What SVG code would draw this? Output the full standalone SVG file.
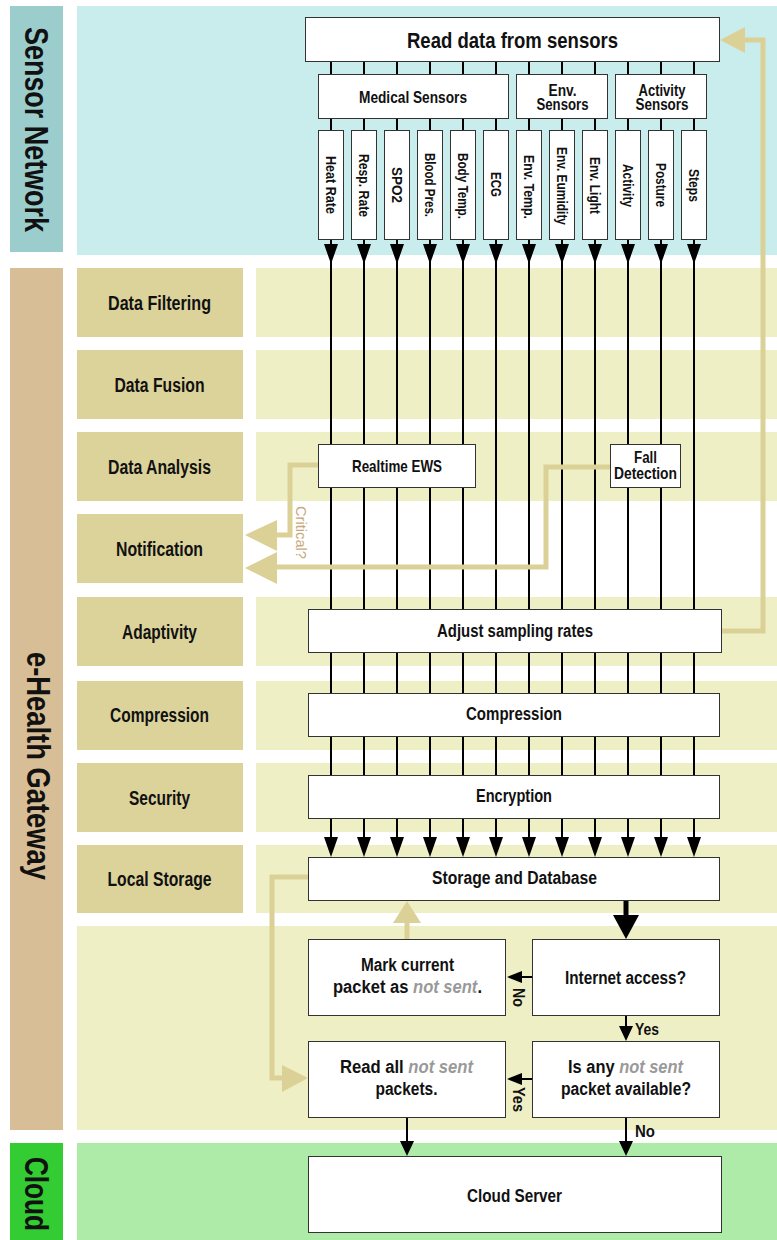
<svg xmlns="http://www.w3.org/2000/svg" width="777" height="1240" viewBox="0 0 777 1240">
<defs>
<style>
.t{font-family:"Liberation Sans Narrow","Liberation Sans",Arial,sans-serif;font-weight:bold;fill:#111;text-anchor:middle}
.big{font-family:"Liberation Sans Narrow","Liberation Sans",Arial,sans-serif;font-weight:bold;fill:#111;font-size:34px}
.lab{font-size:20px}
.m{font-size:18px}
.g{font-size:17px}
.g2{font-size:16px}
.s{font-size:14px}
.box{fill:#fff;stroke:#333;stroke-width:1}
.lbox{fill:#dcd39b}
.band{fill:#efefc6}
.ln{stroke:#000;stroke-width:2;fill:none}
.gold{stroke:#dbd197;stroke-width:5;fill:none}
.gf{fill:#dbd197}
.ns{fill:#999;font-style:italic}
</style>
<path id="ah" d="M-7,-20 L7,-20 L0,0 Z"/>
<path id="as" d="M-7,-15 L7,-15 L0,0 Z"/>
<path id="al" d="M15,-6 L15,6 L0,0 Z"/>
</defs>

<g id="backgrounds">
<rect x="10" y="6" width="53" height="246" fill="#9ccdcd"/>
<rect x="77" y="6" width="700" height="249" fill="#c9ecec"/>
<rect x="10" y="268" width="53" height="862" fill="#d8be96"/>
<rect x="10" y="1143" width="53" height="97" fill="#33cc33"/>
<rect x="77" y="926" width="700" height="204" fill="#efefc6"/>
<rect x="77" y="1143" width="700" height="97" fill="#aeeaa8"/>
<rect class="band" x="256" y="268" width="521" height="69"/>
<rect class="band" x="256" y="350" width="521" height="69"/>
<rect class="band" x="256" y="432" width="521" height="69"/>
<rect class="band" x="256" y="597" width="521" height="69"/>
<rect class="band" x="256" y="681" width="521" height="69"/>
<rect class="band" x="256" y="763" width="521" height="69"/>
<rect class="band" x="256" y="845" width="521" height="68"/>
</g>

<g id="lane-labels">
<text class="big" transform="translate(25,27) rotate(90)" textLength="205" lengthAdjust="spacingAndGlyphs">Sensor Network</text>
<text class="big" transform="translate(27,652) rotate(90)" textLength="228" lengthAdjust="spacingAndGlyphs">e-Health Gateway</text>
<text class="big" transform="translate(25,1157) rotate(90)" textLength="74" lengthAdjust="spacingAndGlyphs">Cloud</text>
</g>

<g id="layer-labels">
<g id="l-filtering"><rect class="lbox" x="77" y="268" width="166" height="69"/><text class="t lab" x="159.5" y="309.5" textLength="103" lengthAdjust="spacingAndGlyphs">Data Filtering</text></g>
<g id="l-fusion"><rect class="lbox" x="77" y="350" width="166" height="69"/><text class="t lab" x="159.5" y="391.5" textLength="90" lengthAdjust="spacingAndGlyphs">Data Fusion</text></g>
<g id="l-analysis"><rect class="lbox" x="77" y="432" width="166" height="69"/><text class="t lab" x="159.5" y="473.5" textLength="103" lengthAdjust="spacingAndGlyphs">Data Analysis</text></g>
<g id="l-notification"><rect class="lbox" x="77" y="514" width="166" height="69"/><text class="t lab" x="159.5" y="555.5" textLength="87" lengthAdjust="spacingAndGlyphs">Notification</text></g>
<g id="l-adaptivity"><rect class="lbox" x="77" y="597" width="166" height="69"/><text class="t lab" x="159.5" y="638.5" textLength="75" lengthAdjust="spacingAndGlyphs">Adaptivity</text></g>
<g id="l-compression"><rect class="lbox" x="77" y="681" width="166" height="69"/><text class="t lab" x="159.5" y="722" textLength="99" lengthAdjust="spacingAndGlyphs">Compression</text></g>
<g id="l-security"><rect class="lbox" x="77" y="763" width="166" height="69"/><text class="t lab" x="159.5" y="804.5" textLength="61" lengthAdjust="spacingAndGlyphs">Security</text></g>
<g id="l-storage"><rect class="lbox" x="77" y="845" width="166" height="68"/><text class="t lab" x="159.5" y="886" textLength="104" lengthAdjust="spacingAndGlyphs">Local Storage</text></g>
</g>

<g id="connectors">
<path class="ln" d="M331,62V75M364,62V75M397,62V75M430,62V75M463,62V75M496,62V75M529,62V75M562,62V75M595,62V75M628,62V75M661,62V75M694,62V75"/>
<path class="ln" d="M331,118V131M364,118V131M397,118V131M430,118V131M463,118V131M496,118V131M529,118V131M562,118V131M595,118V131M628,118V131M661,118V131M694,118V131"/>
<path class="ln" d="M331,240V846M364,240V846M397,240V846M430,240V846M463,240V846M496,240V846M529,240V846M562,240V846M595,240V846M628,240V846M661,240V846M694,240V846"/>
<g id="heads-top">
<use href="#ah" x="331" y="264"/><use href="#ah" x="364" y="264"/><use href="#ah" x="397" y="264"/><use href="#ah" x="430" y="264"/><use href="#ah" x="463" y="264"/><use href="#ah" x="496" y="264"/><use href="#ah" x="529" y="264"/><use href="#ah" x="562" y="264"/><use href="#ah" x="595" y="264"/><use href="#ah" x="628" y="264"/><use href="#ah" x="661" y="264"/><use href="#ah" x="694" y="264"/>
</g>
<g id="heads-storage">
<use href="#ah" x="331" y="857"/><use href="#ah" x="364" y="857"/><use href="#ah" x="397" y="857"/><use href="#ah" x="430" y="857"/><use href="#ah" x="463" y="857"/><use href="#ah" x="496" y="857"/><use href="#ah" x="529" y="857"/><use href="#ah" x="562" y="857"/><use href="#ah" x="595" y="857"/><use href="#ah" x="628" y="857"/><use href="#ah" x="661" y="857"/><use href="#ah" x="694" y="857"/>
</g>
<path d="M626,901V916" stroke="#000" stroke-width="5"/>
<path d="M613,915L639,915L626,939Z" fill="#000"/>
<path class="ln" d="M532,977H520"/>
<use href="#al" x="507" y="977"/>
<path class="ln" d="M626,1016V1027"/>
<use href="#as" x="626" y="1041"/>
<path class="ln" d="M532,1079H520"/>
<use href="#al" x="507" y="1079"/>
<path class="ln" d="M407,1118V1141"/>
<use href="#as" x="407" y="1156"/>
<path class="ln" d="M626,1118V1141"/>
<use href="#as" x="626" y="1156"/>
</g>

<g id="n-read"><rect class="box" x="305.5" y="17.5" width="414" height="44"/><text class="t" style="font-size:22px" x="512.5" y="48" textLength="211" lengthAdjust="spacingAndGlyphs">Read data from sensors</text></g>
<g id="n-medical"><rect class="box" x="318.5" y="74.5" width="190" height="44"/><text class="t g" x="413" y="103" textLength="108" lengthAdjust="spacingAndGlyphs">Medical Sensors</text></g>
<g id="n-env"><rect class="box" x="516.5" y="74.5" width="91" height="44"/><text class="t g2" x="562.5" y="96" textLength="28" lengthAdjust="spacingAndGlyphs">Env.</text><text class="t g2" x="562.5" y="110" textLength="52" lengthAdjust="spacingAndGlyphs">Sensors</text></g>
<g id="n-activity"><rect class="box" x="615.5" y="74.5" width="91" height="44"/><text class="t g2" x="662" y="96" textLength="47" lengthAdjust="spacingAndGlyphs">Activity</text><text class="t g2" x="662" y="110" textLength="53" lengthAdjust="spacingAndGlyphs">Sensors</text></g>

<g id="sensors">
<g id="s-heart"><rect class="box" x="318.5" y="130.5" width="25" height="109"/><text class="t s" transform="translate(326,185) rotate(90)" textLength="58" lengthAdjust="spacingAndGlyphs">Heat Rate</text></g>
<g id="s-resp"><rect class="box" x="351.5" y="130.5" width="25" height="109"/><text class="t s" transform="translate(359,185.5) rotate(90)" textLength="63" lengthAdjust="spacingAndGlyphs">Resp. Rate</text></g>
<g id="s-spo2"><rect class="box" x="384.5" y="130.5" width="25" height="109"/><text class="t s" transform="translate(392,185) rotate(90)" textLength="36" lengthAdjust="spacingAndGlyphs">SPO2</text></g>
<g id="s-bp"><rect class="box" x="417.5" y="130.5" width="25" height="109"/><text class="t s" transform="translate(425,185) rotate(90)" textLength="64" lengthAdjust="spacingAndGlyphs">Blood Pres.</text></g>
<g id="s-bt"><rect class="box" x="450.5" y="130.5" width="25" height="109"/><text class="t s" transform="translate(458,186) rotate(90)" textLength="66" lengthAdjust="spacingAndGlyphs">Body Temp.</text></g>
<g id="s-ecg"><rect class="box" x="483.5" y="130.5" width="25" height="109"/><text class="t s" transform="translate(491,184.5) rotate(90)" textLength="25" lengthAdjust="spacingAndGlyphs">ECG</text></g>
<g id="s-et"><rect class="box" x="516.5" y="130.5" width="25" height="109"/><text class="t s" transform="translate(524,187) rotate(90)" textLength="64" lengthAdjust="spacingAndGlyphs">Env. Temp.</text></g>
<g id="s-eh"><rect class="box" x="549.5" y="130.5" width="25" height="109"/><text class="t s" transform="translate(557,186) rotate(90)" textLength="78" lengthAdjust="spacingAndGlyphs">Env. Eumidity</text></g>
<g id="s-el"><rect class="box" x="582.5" y="130.5" width="25" height="109"/><text class="t s" transform="translate(590,185.5) rotate(90)" textLength="57" lengthAdjust="spacingAndGlyphs">Env. Light</text></g>
<g id="s-act"><rect class="box" x="615.5" y="130.5" width="25" height="109"/><text class="t s" transform="translate(623,185.5) rotate(90)" textLength="43" lengthAdjust="spacingAndGlyphs">Activity</text></g>
<g id="s-post"><rect class="box" x="648.5" y="130.5" width="25" height="109"/><text class="t s" transform="translate(656,185) rotate(90)" textLength="44" lengthAdjust="spacingAndGlyphs">Posture</text></g>
<g id="s-steps"><rect class="box" x="681.5" y="130.5" width="25" height="109"/><text class="t s" transform="translate(689,185.5) rotate(90)" textLength="33" lengthAdjust="spacingAndGlyphs">Steps</text></g>
</g>

<g id="n-ews"><rect class="box" x="318.5" y="444.5" width="157" height="43"/><text class="t g" x="397" y="472" textLength="90" lengthAdjust="spacingAndGlyphs">Realtime EWS</text></g>
<g id="n-fall"><rect class="box" x="610.5" y="444.5" width="70" height="43"/><text class="t g2" x="645.5" y="463" textLength="23" lengthAdjust="spacingAndGlyphs">Fall</text><text class="t g2" x="645.5" y="479" textLength="63" lengthAdjust="spacingAndGlyphs">Detection</text></g>

<g id="n-adjust"><rect class="box" x="308.5" y="609.5" width="413" height="43"/><text class="t m" x="515" y="637" textLength="156" lengthAdjust="spacingAndGlyphs">Adjust sampling rates</text></g>
<g id="n-compression"><rect class="box" x="308.5" y="693.5" width="411" height="43"/><text class="t m" x="514" y="720" textLength="96" lengthAdjust="spacingAndGlyphs">Compression</text></g>
<g id="n-encryption"><rect class="box" x="308.5" y="775.5" width="411" height="43"/><text class="t m" x="514" y="802" textLength="76" lengthAdjust="spacingAndGlyphs">Encryption</text></g>
<g id="n-storage"><rect class="box" x="308.5" y="857.5" width="411" height="43"/><text class="t m" x="514.5" y="884" textLength="165" lengthAdjust="spacingAndGlyphs">Storage and Database</text></g>

<g id="n-mark"><rect class="box" x="308.5" y="939.5" width="197" height="76"/><text class="t m" x="407.5" y="971" textLength="93" lengthAdjust="spacingAndGlyphs">Mark current</text><text class="t m" x="407.5" y="993" textLength="149" lengthAdjust="spacingAndGlyphs">packet as <tspan class="ns">not sent</tspan>.</text></g>
<g id="n-internet"><rect class="box" x="532.5" y="939.5" width="187" height="76"/><text class="t m" x="625.5" y="984" textLength="121" lengthAdjust="spacingAndGlyphs">Internet access?</text></g>
<g id="n-readall"><rect class="box" x="308.5" y="1041.5" width="197" height="76"/><text class="t m" x="406.5" y="1073" textLength="133" lengthAdjust="spacingAndGlyphs">Read all <tspan class="ns">not sent</tspan></text><text class="t m" x="406.5" y="1095" textLength="62" lengthAdjust="spacingAndGlyphs">packets.</text></g>
<g id="n-isany"><rect class="box" x="532.5" y="1041.5" width="187" height="76"/><text class="t m" x="625.5" y="1073" textLength="115" lengthAdjust="spacingAndGlyphs">Is any <tspan class="ns">not sent</tspan></text><text class="t m" x="626" y="1095" textLength="130" lengthAdjust="spacingAndGlyphs">packet available?</text></g>
<g id="n-cloud"><rect class="box" x="308.5" y="1156.5" width="413" height="76"/><text class="t m" x="514.5" y="1202" textLength="95" lengthAdjust="spacingAndGlyphs">Cloud Server</text></g>

<g id="gold-connectors">
<path class="gold" d="M318,465H290V535H276"/>
<path class="gf" d="M245,535L277,520L277,551Z"/>
<path class="gold" d="M610,467H546V567H276"/>
<path class="gf" d="M245,568L277,552L277,584Z"/>
<path class="gold" d="M722,631H763V40H744"/>
<path class="gf" d="M720,40L745,27L745,53Z"/>
<path class="gold" d="M308,877H272V1078H283"/>
<path class="gf" d="M308,1078L282,1065L282,1092Z"/>
<path class="gold" d="M407,939V921"/>
<path class="gf" d="M407,901L393,923L421,923Z"/>
</g>

<g id="labels">
<text style="font-family:'Liberation Sans Narrow','Liberation Sans',Arial,sans-serif;font-size:15px;fill:#c8a87a" transform="translate(296,506) rotate(90)" textLength="53" lengthAdjust="spacingAndGlyphs">Critical?</text>
<text class="t g" style="text-anchor:start" transform="translate(513,988) rotate(90)" textLength="19" lengthAdjust="spacingAndGlyphs">No</text>
<text class="t g" style="text-anchor:start" x="635" y="1035" textLength="24" lengthAdjust="spacingAndGlyphs">Yes</text>
<text class="t g" style="text-anchor:start" transform="translate(513,1087) rotate(90)" textLength="25" lengthAdjust="spacingAndGlyphs">Yes</text>
<text class="t g" style="text-anchor:start" x="635" y="1137" textLength="20" lengthAdjust="spacingAndGlyphs">No</text>
</g>
</svg>
